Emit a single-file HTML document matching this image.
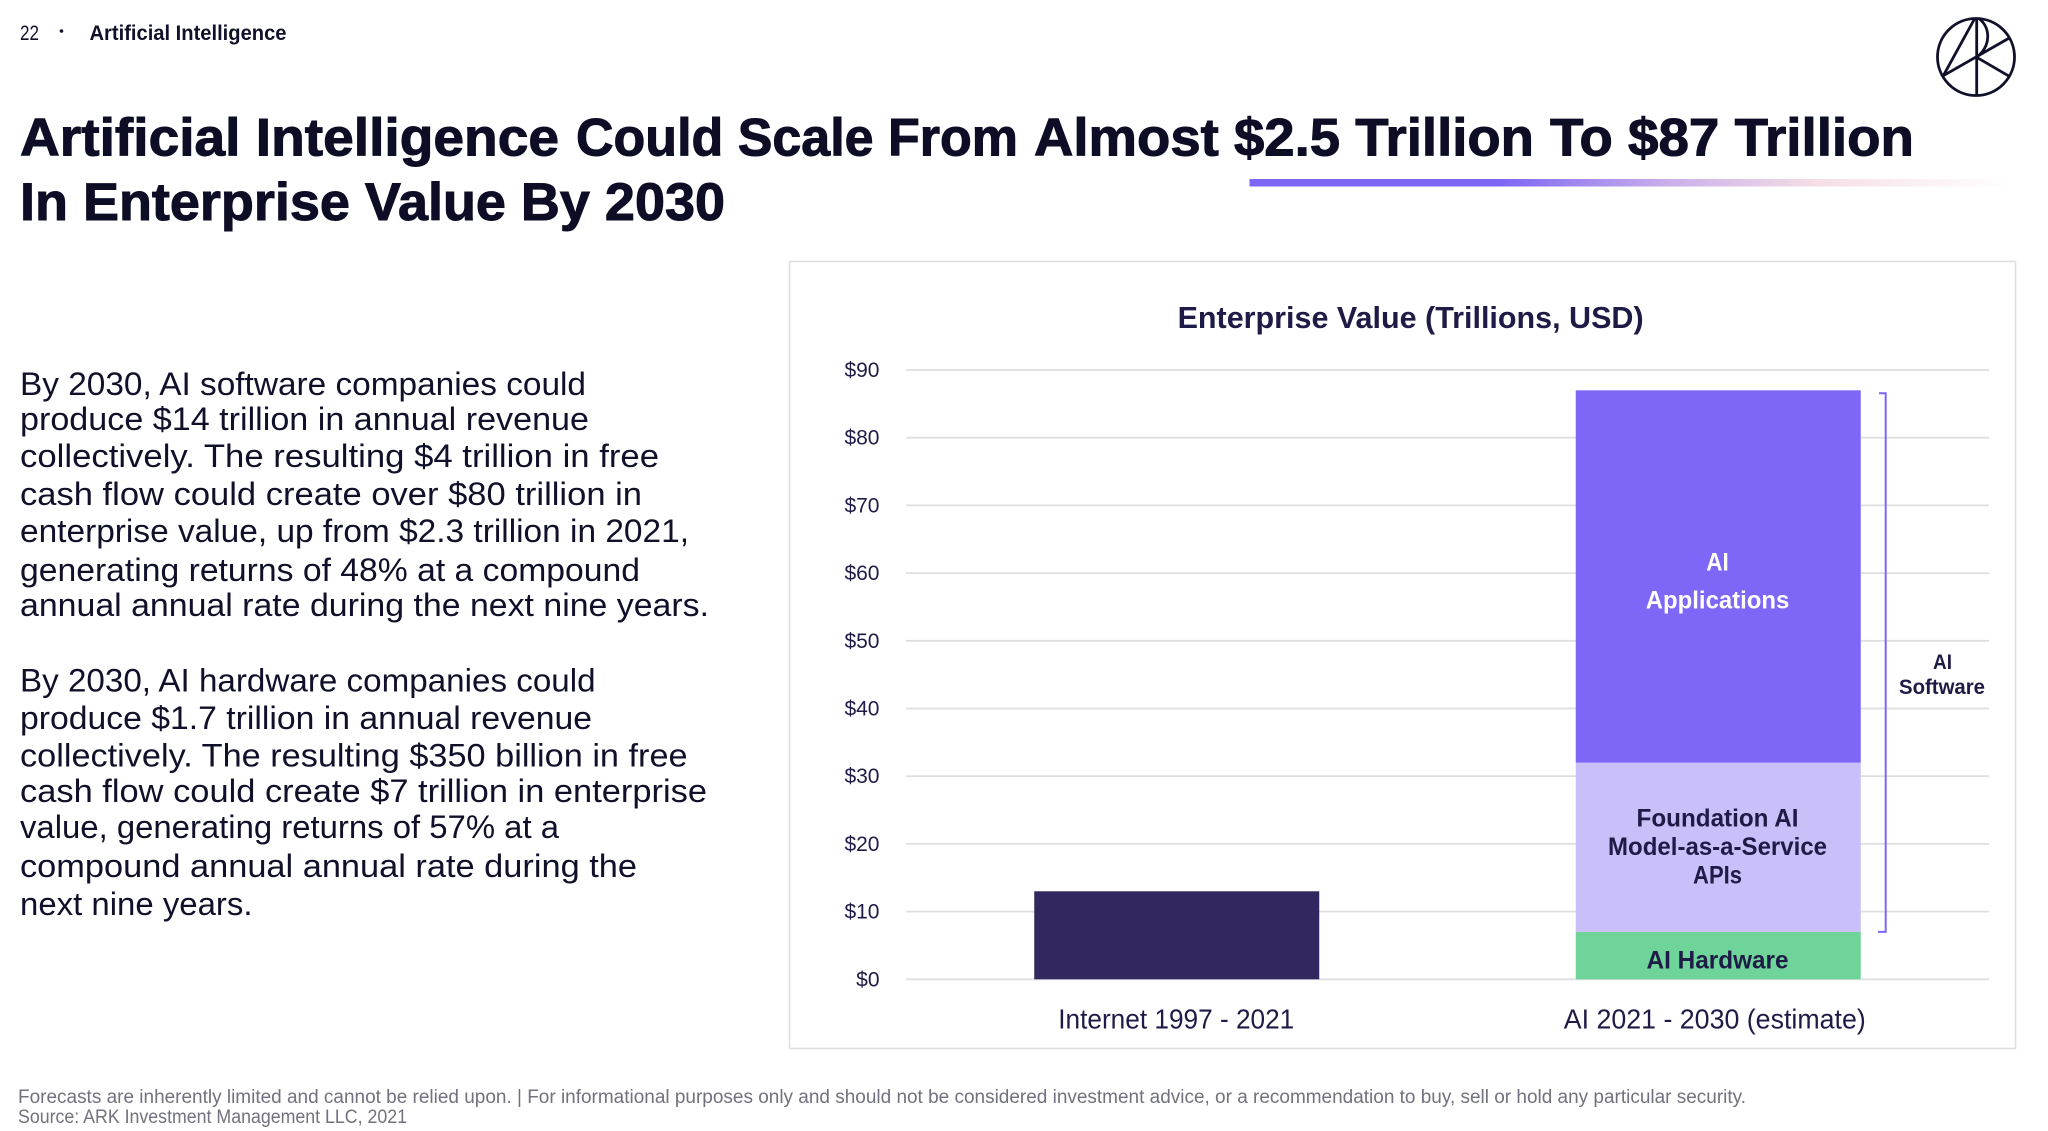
<!DOCTYPE html>
<html lang="en">
<head>
<meta charset="utf-8">
<title>Artificial Intelligence Enterprise Value</title>
<style>
html,body{margin:0;padding:0;background:#fff;width:2048px;height:1131px;overflow:hidden}
svg{display:block;font-family:"Liberation Sans",sans-serif}
.body-line{font-size:32px;fill:#10102a}
.title-line{font-size:53px;font-weight:700;fill:#0d0d26;stroke:#0d0d26;stroke-width:1}
.foot{font-size:19px;fill:#71717f}
</style>
</head>
<body>
<svg id="slide" width="2048" height="1131" viewBox="0 0 2048 1131" xmlns="http://www.w3.org/2000/svg">
  <defs>
    <linearGradient id="underline-gradient" x1="0" x2="1" y1="0" y2="0">
      <stop offset="0" stop-color="#7e66f4"/>
      <stop offset="0.33" stop-color="#7e66f4"/>
      <stop offset="0.55" stop-color="#c9aeea"/>
      <stop offset="0.75" stop-color="#f6dfe6"/>
      <stop offset="1" stop-color="#ffffff"/>
    </linearGradient>
  </defs>

  <text x="20" y="40" font-size="21" fill="#10102a" textLength="19" lengthAdjust="spacingAndGlyphs">22</text>
  <circle cx="61.5" cy="31" r="1.8" fill="#10102a"/>
  <text x="89.5" y="40" font-size="21" font-weight="700" fill="#10102a" textLength="197" lengthAdjust="spacingAndGlyphs">Artificial Intelligence</text>

  <g fill="none" stroke="#10102a" stroke-width="2.8">
    <circle cx="1976" cy="57" r="38.5"/>
    <path d="M1975 18 L1943.3 75.7 M1943.3 75.7 L2009.3 38 M1976.7 57.3 L2009.3 76.3 M1976.7 19 L1976.7 95.3 M1979 18.5 C1991 28 1991 46 1976.7 57.3"/>
  </g>

  <g>
    <text class="title-line" x="20" y="155.5" textLength="539" lengthAdjust="spacingAndGlyphs">Artificial Intelligence</text>
    <text class="title-line" x="576" y="155.5" textLength="442" lengthAdjust="spacingAndGlyphs">Could Scale From</text>
    <text class="title-line" x="1034" y="155.5" textLength="500" lengthAdjust="spacingAndGlyphs">Almost $2.5 Trillion</text>
    <text class="title-line" x="1550" y="155.5" textLength="364" lengthAdjust="spacingAndGlyphs">To $87 Trillion</text>
  </g>
  <text class="title-line" x="20" y="220" textLength="705" lengthAdjust="spacingAndGlyphs">In Enterprise Value By 2030</text>
  <rect x="1249.5" y="179" width="760" height="7.5" fill="url(#underline-gradient)"/>

  <g>
    <text class="body-line" x="20" y="395" textLength="566" lengthAdjust="spacingAndGlyphs">By 2030, AI software companies could</text>
    <text class="body-line" x="20" y="430" textLength="569" lengthAdjust="spacingAndGlyphs">produce $14 trillion in annual revenue</text>
    <text class="body-line" x="20" y="467" textLength="639" lengthAdjust="spacingAndGlyphs">collectively. The resulting $4 trillion in free</text>
    <text class="body-line" x="20" y="505" textLength="622" lengthAdjust="spacingAndGlyphs">cash flow could create over $80 trillion in</text>
    <text class="body-line" x="20" y="542" textLength="669" lengthAdjust="spacingAndGlyphs">enterprise value, up from $2.3 trillion in 2021,</text>
    <text class="body-line" x="20" y="581" textLength="620" lengthAdjust="spacingAndGlyphs">generating returns of 48% at a compound</text>
    <text class="body-line" x="20" y="616" textLength="689" lengthAdjust="spacingAndGlyphs">annual annual rate during the next nine years.</text>
  </g>
  <g>
    <text class="body-line" x="20" y="691.7" textLength="575.6" lengthAdjust="spacingAndGlyphs">By 2030, AI hardware companies could</text>
    <text class="body-line" x="20" y="729" textLength="572" lengthAdjust="spacingAndGlyphs">produce $1.7 trillion in annual revenue</text>
    <text class="body-line" x="20" y="766.7" textLength="667.6" lengthAdjust="spacingAndGlyphs">collectively. The resulting $350 billion in free</text>
    <text class="body-line" x="20" y="802" textLength="687" lengthAdjust="spacingAndGlyphs">cash flow could create $7 trillion in enterprise</text>
    <text class="body-line" x="20" y="838" textLength="539" lengthAdjust="spacingAndGlyphs">value, generating returns of 57% at a</text>
    <text class="body-line" x="20" y="877" textLength="617" lengthAdjust="spacingAndGlyphs">compound annual annual rate during the</text>
    <text class="body-line" x="20" y="915" textLength="232.5" lengthAdjust="spacingAndGlyphs">next nine years.</text>
  </g>

  <rect x="789.5" y="261.5" width="1226" height="787" fill="#fff" stroke="#e0e0e4" stroke-width="1.6"/>
  <text x="1177.6" y="328" font-size="31" font-weight="700" fill="#1f1b47" textLength="466" lengthAdjust="spacingAndGlyphs">Enterprise Value (Trillions, USD)</text>
  <g id="chart"></g>

  <text class="foot" x="18" y="1103" textLength="1728" lengthAdjust="spacingAndGlyphs">Forecasts are inherently limited and cannot be relied upon. | For informational purposes only and should not be considered investment advice, or a recommendation to buy, sell or hold any particular security.</text>
  <text class="foot" x="18" y="1123" textLength="389" lengthAdjust="spacingAndGlyphs">Source: ARK Investment Management LLC, 2021</text>
</svg>

<script>
var categories = ['Internet 1997 - 2021', 'AI 2021 - 2030 (estimate)'];
var internetValues = [13, 0];
var hardwareValues = [0, 7];
var foundationValues = [0, 25];
var applicationsValues = [0, 55];
var tickValues = [0, 10, 20, 30, 40, 50, 60, 70, 80, 90];
var tickLabels = ['$0', '$10', '$20', '$30', '$40', '$50', '$60', '$70', '$80', '$90'];

var SVGNS = 'http://www.w3.org/2000/svg';
var chart = document.getElementById('chart');
var plotLeft = 906, plotRight = 1989, plotBottom = 979.3, pxPerUnit = 6.77, barWidth = 285;

function yScale(v) { return plotBottom - v * pxPerUnit; }
function xCenter(i) { return plotLeft + (plotRight - plotLeft) * (i + 0.5) / categories.length; }

function shape(tag, attrs) {
  var el = document.createElementNS(SVGNS, tag);
  for (var k in attrs) el.setAttribute(k, attrs[k]);
  chart.appendChild(el);
  return el;
}
function label(str, x, y, size, weight, fill, anchor, len) {
  var el = shape('text', { x: x, y: y, 'font-size': size, 'font-weight': weight, fill: fill, 'text-anchor': anchor });
  if (len) { el.setAttribute('textLength', len); el.setAttribute('lengthAdjust', 'spacingAndGlyphs'); }
  el.textContent = str;
  return el;
}
function segment(i, base, value, fill) {
  return shape('rect', { x: xCenter(i) - barWidth / 2, y: yScale(base + value), width: barWidth, height: yScale(base) - yScale(base + value), fill: fill });
}

tickValues.forEach(function (t, i) {
  var grid = shape('rect', { x: plotLeft, y: yScale(t) - 0.9, width: plotRight - plotLeft, height: 1.8, fill: '#dfdfe2' });
  
  
  var tick = label(tickLabels[i], 879.5, yScale(t) + 7, 21, 400, '#1f1b47', 'end');
  
  
});

categories.forEach(function (c, i) {
  var hw = hardwareValues[i], fd = foundationValues[i], ap = applicationsValues[i], inet = internetValues[i];
  var r;
  if (inet > 0) {
    r = segment(i, 0, inet, '#32275f');
    
    
  }
  if (hw > 0) {
    r = segment(i, 0, hw, '#6fd49a');
    
    
  }
  if (fd > 0) {
    r = segment(i, hw, fd, '#c9bff9');
    
    
  }
  if (ap > 0) {
    r = segment(i, hw + fd, ap, '#7e66f6');
    
    
  }
  var cat = label(c, xCenter(i) - (i ? 3.5 : 0.5), 1028.5, 28, 400, '#1f1b47', 'middle', i ? 302 : 236);
  
  

  if (ap > 0) {
    var cx = xCenter(i) - 0.7, t;
    var apMid = yScale(hw + fd + ap / 2);
    t = label('AI', cx, apMid - 6, 25, 700, '#ffffff', 'middle', 22.5);
    
    
    t = label('Applications', cx, apMid + 32, 25, 700, '#ffffff', 'middle', 143.6);
    
    

    var fdMid = yScale(hw + fd / 2);
    t = label('Foundation AI', cx, fdMid - 21, 25, 700, '#1f1b47', 'middle', 162);
    
    
    t = label('Model-as-a-Service', cx, fdMid + 7.5, 25, 700, '#1f1b47', 'middle', 219);
    
    
    t = label('APIs', cx, fdMid + 36, 25, 700, '#1f1b47', 'middle', 49);
    
    

    t = label('AI Hardware', cx, yScale(hw / 2) + 13, 25, 700, '#1f1b47', 'middle', 142);
    
    

    var softwareTop = hw + fd + ap, softwareBottom = hw;
    var bracket = shape('path', {
      d: 'M1879 ' + (yScale(softwareTop) + 3) + ' H1885.7 V' + yScale(softwareBottom) + ' H1878',
      fill: 'none', stroke: '#7e66f6', 'stroke-width': 2
    });
    
    

    t = label('AI', 1942.5, 669, 21, 700, '#1f1b47', 'middle', 19);
    
    
    t = label('Software', 1942, 694, 21, 700, '#1f1b47', 'middle', 86);
    
    
  }
});
</script>
</body>
</html>
